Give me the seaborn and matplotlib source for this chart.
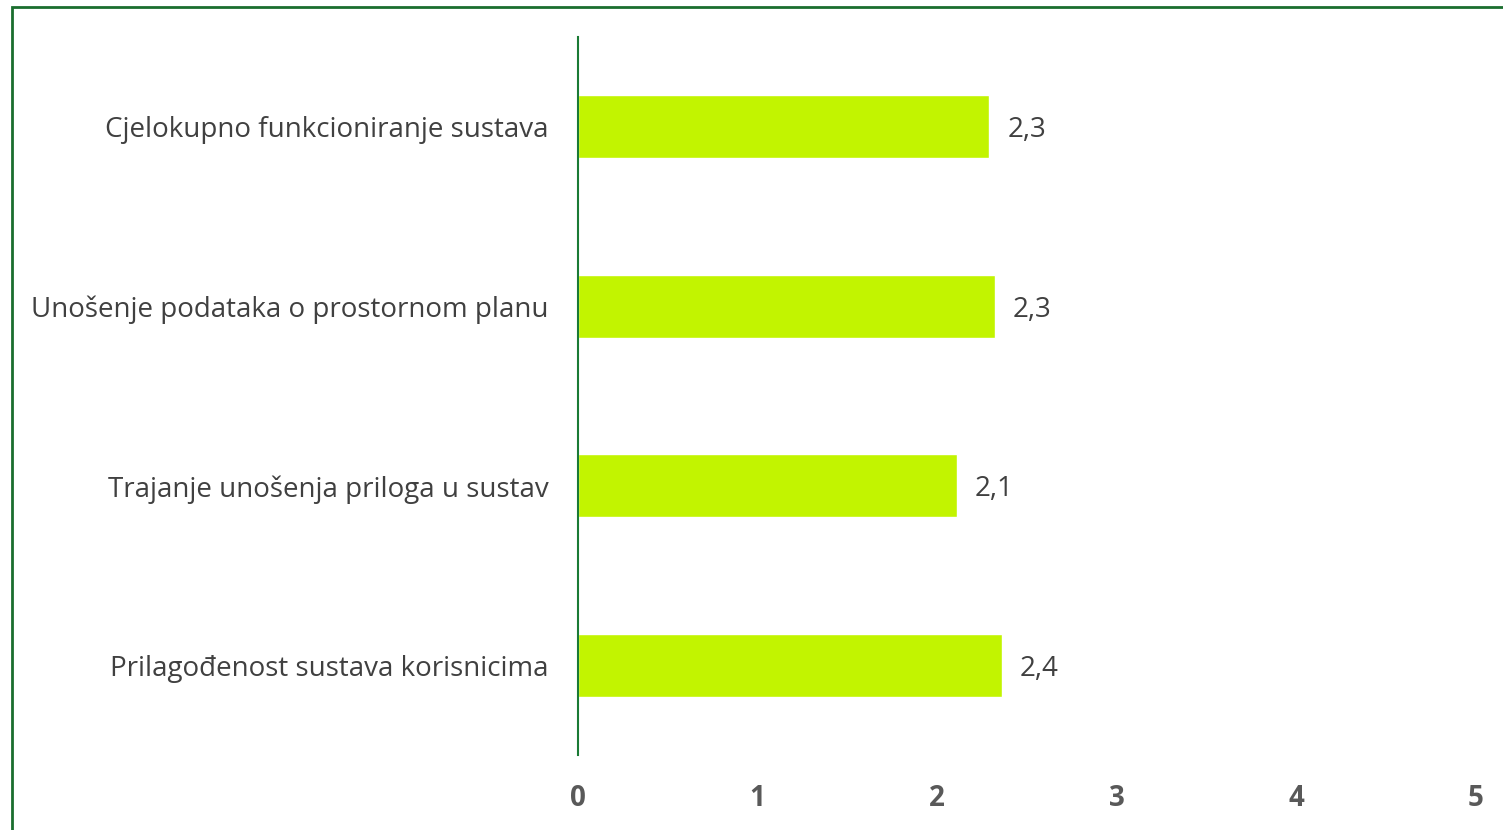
import matplotlib
matplotlib.use("Agg")
import matplotlib.pyplot as plt
import seaborn as sns
import pandas as pd
from matplotlib.patches import Rectangle

# Podaci
kategorije = [
    "Cjelokupno funkcioniranje sustava",
    "Unošenje podataka o prostornom planu",
    "Trajanje unošenja priloga u sustav",
    "Prilagođenost sustava korisnicima",
]
ocjene = [2.29, 2.32, 2.11, 2.36]
x_ticks = [0, 1, 2, 3, 4, 5]

df = pd.DataFrame({"kategorija": kategorije, "ocjena": ocjene})

sns.set_style("white")
plt.rcParams["font.family"] = ["Open Sans", "DejaVu Sans"]

fig = plt.figure(figsize=(15.03, 8.3), dpi=100)
ax = fig.add_axes([578 / 1503, 1 - 755 / 830, (1476 - 578) / 1503, (755 - 37) / 830])

sns.barplot(data=df, x="ocjena", y="kategorija", orient="h", color="#C2F400",
            saturation=1, width=0.35, ax=ax)

for i, v in enumerate(ocjene):
    ax.text(v + 0.1, i, f"{v:.1f}".replace(".", ","), va="center_baseline", ha="left",
            fontsize=20, color="#404040")

ax.set_xlim(0, 5)
ax.set_xticks(x_ticks)
ax.set_xticklabels([str(t) for t in x_ticks], fontsize=20, fontweight="bold", color="#595959")
ax.tick_params(axis="x", length=0, pad=21)
ax.tick_params(axis="y", length=0, pad=21, labelsize=20, labelcolor="#404040")
ax.set_xlabel("")
ax.set_ylabel("")
for s in ["top", "right", "bottom"]:
    ax.spines[s].set_visible(False)
ax.spines["left"].set_color("#1A7A35")
ax.spines["left"].set_linewidth(1.5)

# okvir
fig.patches.append(Rectangle((12 / 1503, -0.05), 1.1, 1 - 7 / 830 + 0.05,
                             transform=fig.transFigure, fill=False,
                             edgecolor="#1A6E2E", linewidth=2))

fig.savefig("out.png", dpi=100)
